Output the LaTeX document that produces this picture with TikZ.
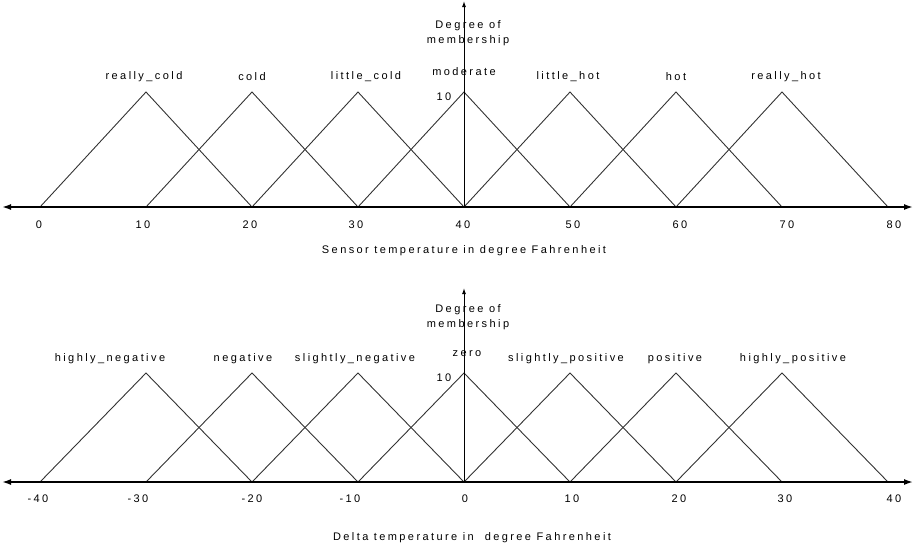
\documentclass[tikz,border=0pt]{standalone}
\usepackage{fontspec}
\setmainfont{Liberation Sans}[LetterSpace=22]
\usetikzlibrary{arrows.meta}
\begin{document}
\begin{tikzpicture}[x=1pt,y=-1pt,
  every node/.style={font=\fontsize{11}{15}\selectfont, text=black, inner sep=0pt},
  mf/.style={draw=black!80, line width=0.9pt, line join=miter},
  haxis/.style={draw=black, line width=1.6pt, {Latex[length=9pt,width=6pt]}-{Latex[length=9pt,width=6pt]}},
  vaxis/.style={draw=black, line width=1pt, -{Latex[length=6pt,width=4pt]}},
  lbl/.style={anchor=center}]
\useasboundingbox (0,0) rectangle (917,550);
% ---------- top plot ----------
\coordinate (tL) at (2,207);
\coordinate (tR) at (913,207);
\coordinate (tO) at (464,207);
\coordinate (tT) at (464,1);
\foreach \i in {0,...,6}{
  \draw[mf] ({40+106*\i},207) -- ({146+106*\i},92) -- ({252+106*\i},207);
}
\draw[haxis] (tL) -- (tR);
\draw[vaxis] (tO) -- (tT);
\node[lbl] (t1) at (144,77) {really\_cold};
\node[lbl] (t2) at (252,77) {cold};
\node[lbl] (t3) at (366,77) {little\_cold};
\node[lbl] (t4) at (464,72) {moderate};
\node[lbl] (t5) at (568,77) {little\_hot};
\node[lbl] (t6) at (676,77) {hot};
\node[lbl] (t7) at (786,77) {really\_hot};
\node[lbl] (tdeg) at (468,33) [align=center] {Degree of\\membership};
\node[lbl] (t10) at (444,97) {10};
\foreach \x/\t in {39/0,143/10,250/20,356/30,463/40,573/50,680/60,787/70,894/80}{
  \node[lbl] at (\x,225) {\t};
}
\node[lbl] (txl) at (464,251) {Sensor temperature in degree Fahrenheit};
% ---------- bottom plot ----------
\coordinate (bL) at (2,482);
\coordinate (bR) at (913,482);
\coordinate (bO) at (464,482);
\coordinate (bT) at (464,288);
\foreach \i in {0,...,6}{
  \draw[mf] ({40+106*\i},482) -- ({146+106*\i},373) -- ({252+106*\i},482);
}
\draw[haxis] (bL) -- (bR);
\draw[vaxis] (bO) -- (bT);
\node[lbl] (b1) at (110,359) {highly\_negative};
\node[lbl] (b2) at (243,359) {negative};
\node[lbl] (b3) at (355,359) {slightly\_negative};
\node[lbl] (b4) at (467,354) {zero};
\node[lbl] (b5) at (566,359) {slightly\_positive};
\node[lbl] (b6) at (675,359) {positive};
\node[lbl] (b7) at (793,359) {highly\_positive};
\node[lbl] (bdeg) at (468,317) [align=center] {Degree of\\membership};
\node[lbl] (b10) at (444,378) {10};
\foreach \x/\t in {38/-40,138/-30,252/-20,350/-10,465/0,572/10,679/20,785/30,894/40}{
  \node[lbl] at (\x,499) {\t};
}
\node[lbl] (bxl) at (472,538) {Delta temperature in \ degree Fahrenheit};
\end{tikzpicture}
\end{document}
